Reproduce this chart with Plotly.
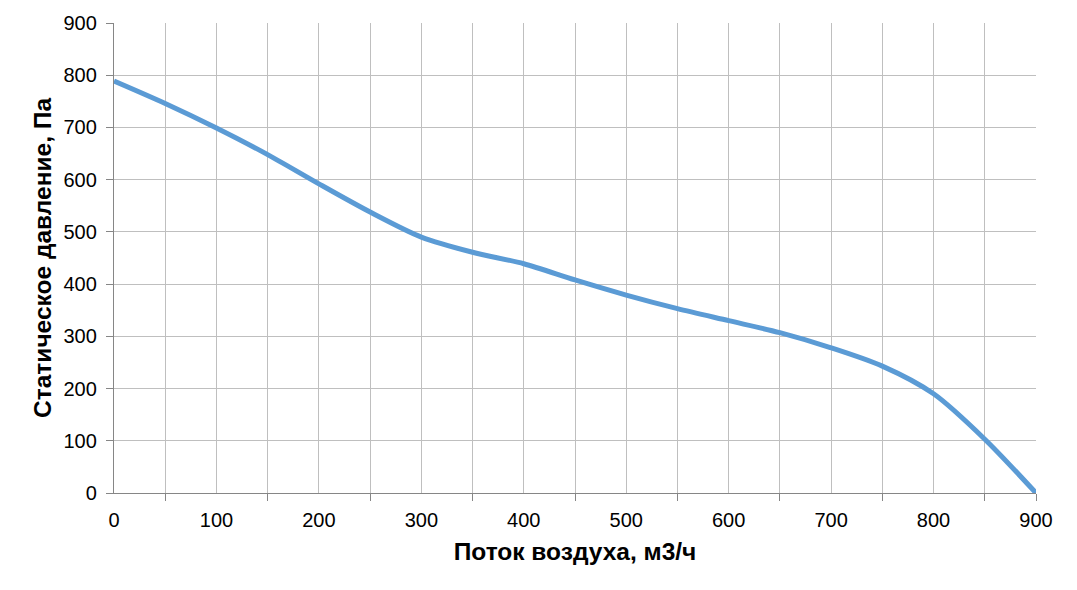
import plotly.graph_objects as go

flow = [0, 50, 100, 150, 200, 250, 300, 350, 400, 450, 500, 550, 600, 650, 700, 750, 800, 850, 900]
pressure = [789, 746, 699, 648, 592, 538, 490, 461, 439, 408, 379, 353, 330, 307, 278, 243, 190, 103, 0]

x_ticks = [0, 100, 200, 300, 400, 500, 600, 700, 800, 900]
x_minor = [50, 150, 250, 350, 450, 550, 650, 750, 850]
y_ticks = [0, 100, 200, 300, 400, 500, 600, 700, 800, 900]

fig = go.Figure()
fig.add_trace(go.Scatter(
    x=flow, y=pressure, mode="lines",
    line=dict(color="#5B9BD5", width=5, shape="spline", smoothing=0.8),
    showlegend=False, hoverinfo="x+y"))

font = "Liberation Sans, Arial, sans-serif"
fig.update_layout(
    width=1077, height=590,
    margin=dict(l=106, r=49, t=15, b=105, autoexpand=False),
    paper_bgcolor="white", plot_bgcolor="white",
    font=dict(family=font, size=20, color="black"),
)
fig.update_xaxes(
    range=[0, 900], tickvals=x_ticks, ticktext=[str(v) for v in x_ticks],
    showgrid=True, gridcolor="#BFBFBF", gridwidth=1.3,
    showline=True, linecolor="#868686", linewidth=1.3,
    ticks="", zeroline=False, ticklabelstandoff=9,
    minor=dict(tickvals=x_minor + [900], ticks="outside", ticklen=7, tickcolor="#868686",
               showgrid=True, gridcolor="#BFBFBF", gridwidth=1.3),
    title=dict(text="<b>Поток воздуха, м3/ч</b>", font=dict(size=24.5, family=font), standoff=12),
    tickfont=dict(size=20),
)
fig.update_yaxes(
    range=[0, 900], tickvals=y_ticks,
    showgrid=True, gridcolor="#BFBFBF", gridwidth=1.3,
    showline=True, linecolor="#868686", linewidth=1.3,
    ticks="outside", ticklen=7, tickcolor="#868686", zeroline=False, ticklabelstandoff=5,
    title=dict(text="<b>Статическое давление, Па</b>", font=dict(size=24.5, family=font), standoff=4),
    tickfont=dict(size=20),
)
fig.write_html("out.html")
